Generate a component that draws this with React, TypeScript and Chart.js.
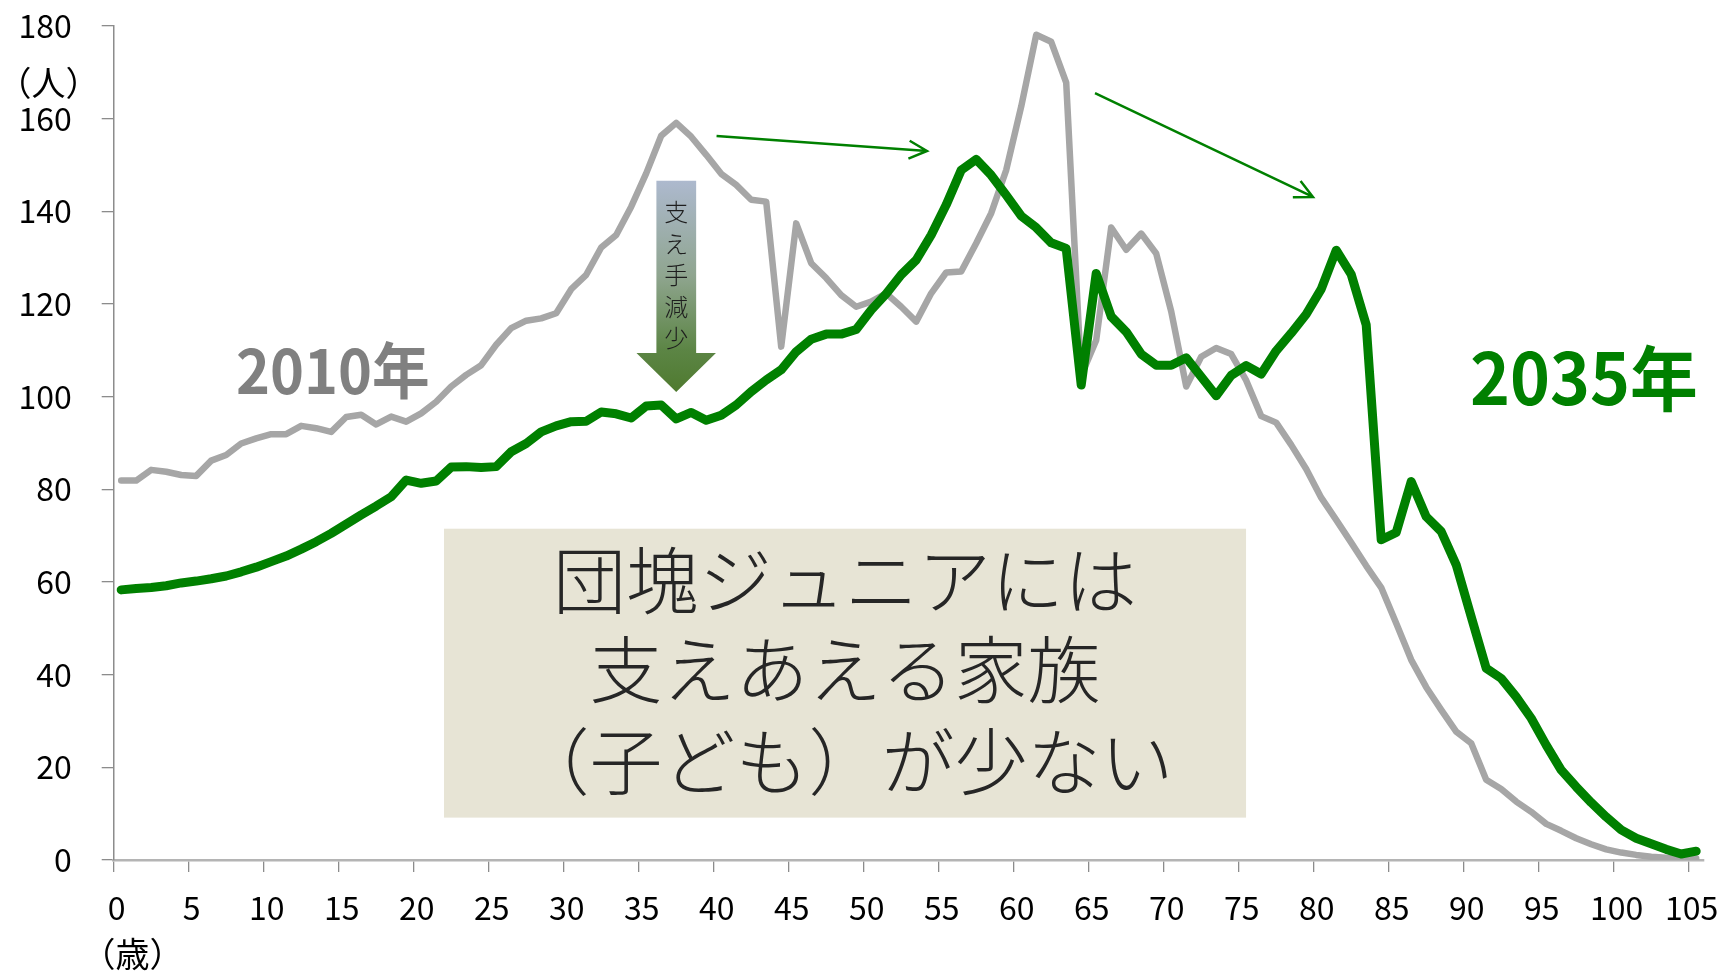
import React, { useEffect, useRef } from 'react';
import { Chart, registerables } from 'chart.js';

Chart.register(...registerables);

// Age categories (0 .. 105 years)
const ages: number[] = Array.from({ length: 106 }, (_, i) => i);

// 2010 population by age (gray)
const pop2010: number[] = [
  81.9, 81.9, 84.2, 83.8, 83.1, 82.9, 86.2, 87.4, 89.9, 91.0,
  91.9, 91.9, 93.7, 93.2, 92.4, 95.6, 96.1, 94.0, 95.7, 94.6,
  96.4, 98.9, 102.2, 104.7, 106.8, 111.2, 114.8, 116.4, 116.9, 118.0,
  123.2, 126.3, 132.2, 134.9, 141.0, 148.2, 156.3, 159.1, 156.1, 152.2,
  148.1, 145.7, 142.5, 142.1, 110.8, 137.4, 128.8, 125.6, 121.9, 119.4,
  120.5, 122.3, 119.4, 116.2, 122.3, 126.8, 127.0, 133.1, 139.6, 148.9,
  162.6, 178.1, 176.6, 167.8, 104.5, 112.2, 136.5, 131.7, 135.2, 130.9,
  118.4, 102.2, 108.6, 110.5, 109.2, 103.5, 95.8, 94.4, 89.6, 84.4,
  78.2, 73.4, 68.5, 63.5, 58.8, 51.1, 43.2, 37.3, 32.4, 27.7,
  25.2, 17.3, 15.3, 12.6, 10.4, 7.8, 6.3, 4.7, 3.4, 2.3,
  1.6, 1.1, 0.7, 0.5, 0.4, 0.3,
];

// 2035 population by age (green)
const pop2035: number[] = [
  58.3, 58.6, 58.8, 59.2, 59.8, 60.2, 60.7, 61.3, 62.2, 63.2,
  64.4, 65.6, 67.1, 68.7, 70.5, 72.5, 74.5, 76.4, 78.4, 82.0,
  81.3, 81.8, 84.8, 84.9, 84.7, 84.9, 88.1, 89.9, 92.4, 93.7,
  94.6, 94.7, 96.7, 96.3, 95.4, 98.0, 98.2, 95.2, 96.6, 94.9,
  96.0, 98.2, 101.1, 103.6, 105.8, 109.7, 112.4, 113.5, 113.5, 114.5,
  118.7, 122.2, 126.3, 129.5, 134.9, 141.4, 148.9, 151.2, 147.8, 143.5,
  139.0, 136.5, 133.2, 132.0, 102.5, 126.6, 117.3, 114.0, 109.2, 106.8,
  106.8, 108.4, 104.3, 100.2, 104.6, 106.7, 104.9, 109.9, 113.7, 117.8,
  123.2, 131.6, 126.4, 115.5, 69.1, 70.7, 81.7, 74.1, 70.9, 63.7,
  52.5, 41.4, 39.2, 35.2, 30.6, 24.8, 19.4, 15.8, 12.4, 9.3,
  6.5, 4.7, 3.5, 2.3, 1.3, 1.9,
];

// Tick labels
const xTickAges: number[] = [0, 5, 10, 15, 20, 25, 30, 35, 40, 45, 50, 55, 60, 65, 70, 75, 80, 85, 90, 95, 100, 105];
const yTickValues: number[] = [0, 20, 40, 60, 80, 100, 120, 140, 160, 180];

const yUnitLabel = '（人）';
const xUnitLabel = '（歳）';
const label2010 = '2010年';
const label2035 = '2035年';
const arrowText: string[] = ['支', 'え', '手', '減', '少'];
const boxLines: string[] = ['団塊ジュニアには', '支えあえる家族', '（子ども）が少ない'];

const FONT = '"Noto Sans CJK JP", "Noto Sans", sans-serif';

export default function App() {
  const ref = useRef<HTMLCanvasElement>(null);

  useEffect(() => {
    document.body.style.margin = '0';
    const canvas = ref.current;
    if (!canvas) return;

    const annotations = {
      id: 'annotations',
      beforeDatasetsDraw(chart: any) {
        const { ctx, scales } = chart;
        const x = scales.x;
        const y = scales.y;
        const X = (a: number) => x.getPixelForValue(a);
        const Y = (v: number) => y.getPixelForValue(v);
        ctx.save();
        const bx0 = X(21.52), bx1 = X(74.99), by0 = Y(71.5), by1 = Y(9.15);
        ctx.fillStyle = 'rgb(231,228,213)';
        ctx.fillRect(bx0, by0, bx1 - bx0, by1 - by0);
        ctx.restore();
      },
      afterDatasetsDraw(chart: any) {
        const { ctx, scales } = chart;
        const x = scales.x;
        const y = scales.y;
        const X = (a: number) => x.getPixelForValue(a);
        const Y = (v: number) => y.getPixelForValue(v);
        ctx.save();

        // box text
        ctx.fillStyle = '#262626';
        ctx.font = `300 73px ${FONT}`;
        ctx.textAlign = 'center';
        ctx.textBaseline = 'middle';
        const lineVals = [60.4, 41.2, 21.4];
        boxLines.forEach((t, i) => ctx.fillText(t, X(48.25), Y(lineVals[i])));

        // gradient down arrow
        const sx0 = X(35.68), sx1 = X(38.33), sTop = Y(146.6), sBot = Y(109.4);
        const hx0 = X(34.35), hx1 = X(39.65), tipX = X(37.0), tipY = Y(101.0);
        const grad = ctx.createLinearGradient(0, sTop, 0, tipY);
        grad.addColorStop(0, '#adb9ce');
        grad.addColorStop(0.45, '#8fa58f');
        grad.addColorStop(0.8, '#5c8545');
        grad.addColorStop(1, '#4f7a2f');
        ctx.fillStyle = grad;
        ctx.beginPath();
        ctx.moveTo(sx0, sTop);
        ctx.lineTo(sx1, sTop);
        ctx.lineTo(sx1, sBot);
        ctx.lineTo(hx1, sBot);
        ctx.lineTo(tipX, tipY);
        ctx.lineTo(hx0, sBot);
        ctx.lineTo(sx0, sBot);
        ctx.closePath();
        ctx.fill();

        ctx.fillStyle = '#1e1e1e';
        ctx.font = `300 24px ${FONT}`;
        ctx.textAlign = 'center';
        ctx.textBaseline = 'middle';
        const charVals = [139.8, 133.0, 126.2, 119.4, 112.6];
        arrowText.forEach((c, i) => ctx.fillText(c, tipX, Y(charVals[i])));

        // thin green arrows
        const drawArrow = (a0: number, v0: number, a1: number, v1: number) => {
          const x0 = X(a0), y0 = Y(v0), x1 = X(a1), y1 = Y(v1);
          const dx = x1 - x0, dy = y1 - y0;
          const len = Math.hypot(dx, dy);
          const ux = dx / len, uy = dy / len;
          const hl = 18, hw = 9;
          ctx.strokeStyle = '#008000';
          ctx.lineWidth = 2.5;
          ctx.lineCap = 'butt';
          ctx.beginPath();
          ctx.moveTo(x0, y0);
          ctx.lineTo(x1, y1);
          ctx.moveTo(x1 - ux * hl - uy * hw, y1 - uy * hl + ux * hw);
          ctx.lineTo(x1, y1);
          ctx.lineTo(x1 - ux * hl + uy * hw, y1 - uy * hl - ux * hw);
          ctx.stroke();
        };
        drawArrow(39.69, 156.27, 53.72, 153.03);
        drawArrow(64.92, 165.52, 79.45, 143.1);

        // series labels (slightly condensed)
        const condensedText = (t: string, font: string, color: string, px: number, py: number, sx: number) => {
          ctx.save();
          ctx.translate(px, py);
          ctx.scale(sx, 1);
          ctx.textAlign = 'left';
          ctx.textBaseline = 'alphabetic';
          ctx.font = font;
          ctx.fillStyle = color;
          ctx.fillText(t, 0, 0);
          ctx.restore();
        };
        condensedText(label2010, `bold 61px ${FONT}`, '#808080', X(7.85) - 3, Y(100.6), 0.945);
        condensedText(label2035, `bold 71px ${FONT}`, '#008000', X(90.12) - 3, Y(98.2), 0.955);

        // unit labels
        ctx.fillStyle = '#000';
        ctx.font = `34px ${FONT}`;
        ctx.textAlign = 'center';
        ctx.textBaseline = 'middle';
        ctx.fillText(yUnitLabel, 48.5, 83);
        ctx.fillText(xUnitLabel, 132.5, 954);

        ctx.restore();
      },
    };

    const chart = new Chart(canvas, {
      type: 'line',
      data: {
        datasets: [
          {
            label: label2035,
            data: ages.map((a, i) => ({ x: a, y: pop2035[i] })),
            borderColor: '#008000',
            backgroundColor: '#008000',
            borderWidth: 9,
            pointRadius: 0,
            borderJoinStyle: 'round',
            borderCapStyle: 'round',
            tension: 0,
            order: 0,
          },
          {
            label: label2010,
            data: ages.map((a, i) => ({ x: a, y: pop2010[i] })),
            borderColor: '#a6a6a6',
            backgroundColor: '#a6a6a6',
            borderWidth: 6.5,
            pointRadius: 0,
            borderJoinStyle: 'round',
            borderCapStyle: 'round',
            tension: 0,
            order: 1,
          },
        ],
      },
      options: {
        responsive: false,
        devicePixelRatio: 1,
        animation: false,
        events: [],
        layout: { padding: { top: 26, right: 19.3, left: 0, bottom: 0 } },
        plugins: { legend: { display: false }, tooltip: { enabled: false } },
        scales: {
          x: {
            type: 'linear',
            min: -0.5,
            max: 105.5,
            afterBuildTicks: (s: any) => {
              s.ticks = xTickAges.map((v) => ({ value: v - 0.5 }));
            },
            afterFit: (s: any) => {
              s.height = 112;
              s.paddingLeft = 0;
              s.paddingRight = 0;
            },
            ticks: {
              autoSkip: false,
              maxRotation: 0,
              padding: 17,
              labelOffset: 3,
              color: '#000',
              font: { size: 32, family: FONT },
              callback: (v: any) => String(Math.round(Number(v) + 0.5)),
            },
            grid: { drawOnChartArea: false, drawTicks: true, tickLength: 12, color: '#8c8c8c', lineWidth: 1.3 },
            border: { display: true, color: '#b4b4b4', width: 2.5 },
          },
          y: {
            type: 'linear',
            min: 0,
            max: 180,
            afterBuildTicks: (s: any) => {
              s.ticks = yTickValues.map((v) => ({ value: v }));
            },
            afterFit: (s: any) => {
              s.width = 113.7;
              s.paddingTop = 0;
              s.paddingBottom = 0;
            },
            ticks: {
              padding: 30,
              color: '#000',
              font: { size: 32, family: FONT },
            },
            grid: { drawOnChartArea: false, drawTicks: true, tickLength: 12, color: '#8c8c8c', lineWidth: 1.3 },
            border: { display: true, color: '#8c8c8c', width: 1.5 },
          },
        },
      },
      plugins: [annotations],
    } as any);

    return () => chart.destroy();
  }, []);

  return (
    <div style={{ position: 'absolute', left: 0, top: 0, width: 1723, height: 972, background: '#fff' }}>
      <canvas ref={ref} width={1723} height={972} style={{ display: 'block', width: 1723, height: 972 }} />
    </div>
  );
}
